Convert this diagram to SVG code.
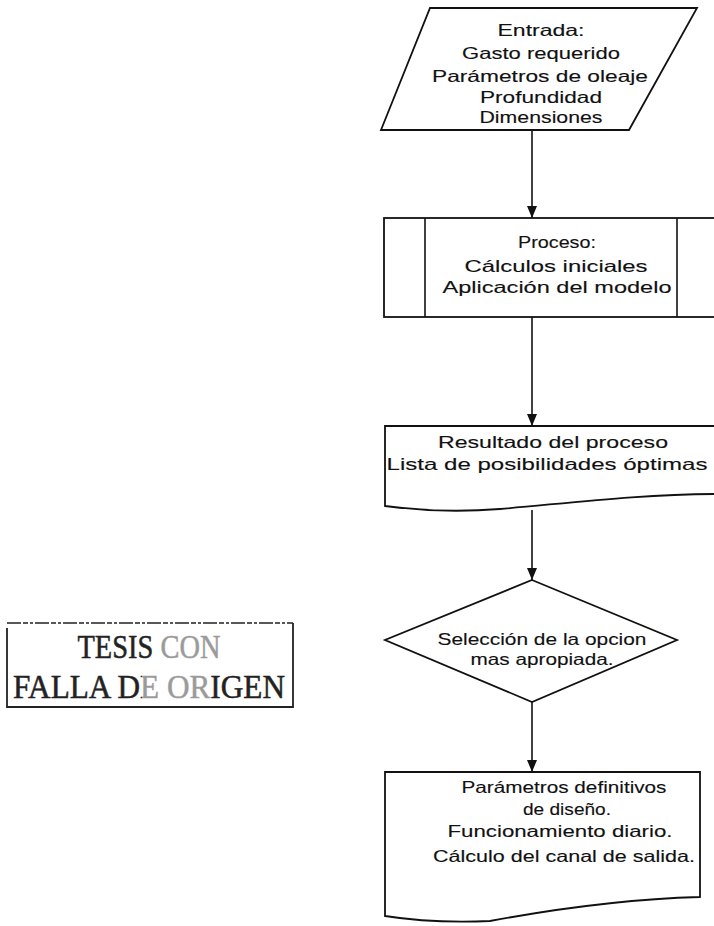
<svg xmlns="http://www.w3.org/2000/svg" width="714" height="926" viewBox="0 0 714 926">
<style>
.shape{fill:#fff;stroke:#111;stroke-width:1.8;stroke-linejoin:miter}
.t{font-family:"Liberation Sans",Arial,sans-serif;font-size:16.5px;fill:#111;stroke:#111;stroke-width:0.12;text-anchor:middle}
.conn{stroke:#111;stroke-width:1.6;fill:none}
.st{font-family:"Liberation Serif","Times New Roman",serif;font-size:34px;text-anchor:middle;stroke-width:0.5}
</style>
<defs>
<marker id="arr" viewBox="0 0 12 10" refX="12" refY="5" markerWidth="12" markerHeight="10" markerUnits="userSpaceOnUse" orient="auto">
<path d="M0,0 L12,5 L0,10 Z" fill="#111"/>
</marker>
<linearGradient id="g1" gradientUnits="userSpaceOnUse" x1="0" y1="0" x2="300" y2="0">
<stop offset="0.52" stop-color="#222"/>
<stop offset="0.52" stop-color="#9a9a9a"/>
<stop offset="1" stop-color="#9a9a9a"/>
</linearGradient>
<linearGradient id="g2" gradientUnits="userSpaceOnUse" x1="0" y1="0" x2="300" y2="0">
<stop offset="0.473" stop-color="#222"/>
<stop offset="0.473" stop-color="#9a9a9a"/>
<stop offset="0.703" stop-color="#9a9a9a"/>
<stop offset="0.703" stop-color="#222"/>
</linearGradient>
</defs>
<rect width="714" height="926" fill="#fff"/>
<g id="connectors">
<line class="conn" x1="532" y1="130" x2="532" y2="218" marker-end="url(#arr)"/>
<line class="conn" x1="532" y1="317" x2="532" y2="426" marker-end="url(#arr)"/>
<line class="conn" x1="532" y1="510" x2="532" y2="580" marker-end="url(#arr)"/>
<line class="conn" x1="532" y1="702" x2="532" y2="772" marker-end="url(#arr)"/>
</g>
<g id="entrada">
<path class="shape" d="M430,8 L697,8 L629,130 L381,130 Z"/>
<text class="t" x="541" y="36" textLength="87" lengthAdjust="spacingAndGlyphs">Entrada:</text>
<text class="t" x="541" y="59" textLength="158" lengthAdjust="spacingAndGlyphs">Gasto requerido</text>
<text class="t" x="540" y="82" textLength="216" lengthAdjust="spacingAndGlyphs">Parámetros de oleaje</text>
<text class="t" x="541" y="103" textLength="122" lengthAdjust="spacingAndGlyphs">Profundidad</text>
<text class="t" x="541" y="123" textLength="123" lengthAdjust="spacingAndGlyphs">Dimensiones</text>
</g>
<g id="proceso">
<rect class="shape" x="384" y="218" width="334" height="99"/>
<line class="conn" x1="425" y1="218" x2="425" y2="317"/>
<line class="conn" x1="677" y1="218" x2="677" y2="317"/>
<text class="t" x="557" y="248" textLength="78" lengthAdjust="spacingAndGlyphs">Proceso:</text>
<text class="t" x="556" y="272" textLength="183" lengthAdjust="spacingAndGlyphs">Cálculos iniciales</text>
<text class="t" x="557" y="293" textLength="229" lengthAdjust="spacingAndGlyphs">Aplicación del modelo</text>
</g>
<g id="resultado">
<path class="shape" d="M385,426 L718,426 L718,494 C640,494 570,503 500,509 C450,513 415,510 385,506 Z"/>
<text class="t" x="553" y="448" textLength="230" lengthAdjust="spacingAndGlyphs">Resultado del proceso</text>
<text class="t" x="547" y="470" textLength="321" lengthAdjust="spacingAndGlyphs">Lista de posibilidades óptimas</text>
</g>
<g id="seleccion">
<path class="shape" d="M532,580 L677,640 L532,702 L385,640 Z"/>
<text class="t" x="542" y="645" textLength="209" lengthAdjust="spacingAndGlyphs">Selección de la opcion</text>
<text class="t" x="542" y="665" textLength="143" lengthAdjust="spacingAndGlyphs">mas apropiada.</text>
</g>
<g id="parametros">
<path class="shape" d="M385,772 L700,772 L700,897 C630,899 560,908 490,921 C440,923 410,920 385,916 Z"/>
<text class="t" x="564" y="793" textLength="205" lengthAdjust="spacingAndGlyphs">Parámetros definitivos</text>
<text class="t" x="567" y="815" textLength="88" lengthAdjust="spacingAndGlyphs">de diseño.</text>
<text class="t" x="560" y="837" textLength="225" lengthAdjust="spacingAndGlyphs">Funcionamiento diario.</text>
<text class="t" x="564" y="862" textLength="262" lengthAdjust="spacingAndGlyphs">Cálculo del canal de salida.</text>
</g>
<g id="sello">
<line x1="7" y1="623" x2="293" y2="623" stroke="#222" stroke-width="1.6" stroke-dasharray="14 2 5 2 3 2"/>
<path d="M7,628 L7,707 L293,707 L293,623" fill="none" stroke="#222" stroke-width="1.8"/>
<text class="st" x="149" y="658" textLength="143" lengthAdjust="spacingAndGlyphs" fill="url(#g1)" stroke="url(#g1)">TESIS CON</text>
<text class="st" x="149" y="698" textLength="272" lengthAdjust="spacingAndGlyphs" fill="url(#g2)" stroke="url(#g2)">FALLA DE ORIGEN</text>
</g>
</svg>
